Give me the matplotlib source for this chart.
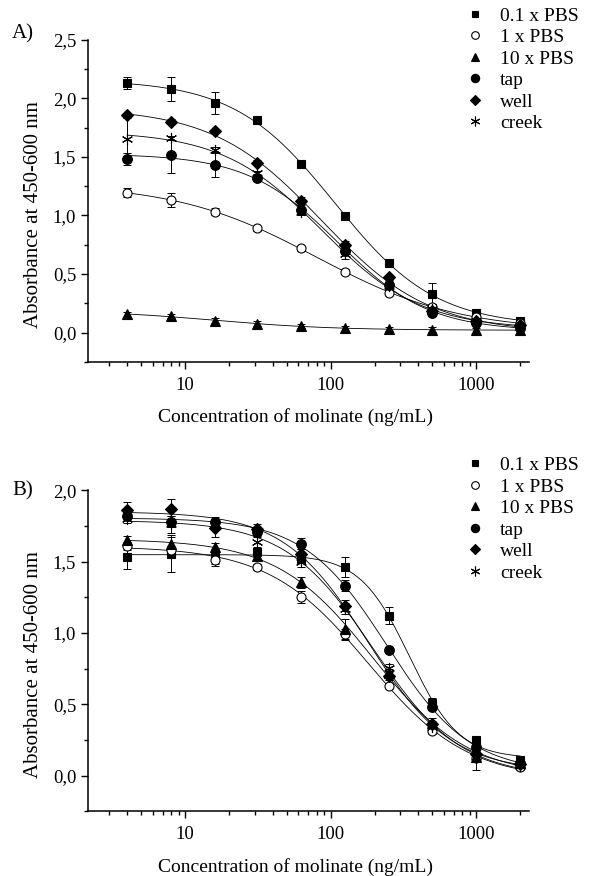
import numpy as np
import matplotlib
matplotlib.use('Agg')
import matplotlib.pyplot as plt
from matplotlib.lines import Line2D
from matplotlib.ticker import FuncFormatter, LogLocator, MultipleLocator, NullFormatter

plt.rcParams['font.family'] = ['Liberation Serif', 'DejaVu Serif']

# molinate concentration (ng/mL)
conc = [4, 8, 16, 31.25, 62.5, 125, 250, 500, 1000, 2000]
series = ['0.1 x PBS', '1 x PBS', '10 x PBS', 'tap', 'well', 'creek']

# Panel A) absorbance, mean and error
a_pbs01 = [2.13, 2.08, 1.96, 1.815, 1.44, 0.995, 0.59, 0.33, 0.17, 0.10]
a_pbs1 = [1.195, 1.13, 1.03, 0.89, 0.72, 0.52, 0.34, 0.22, 0.13, 0.08]
a_pbs10 = [0.156, 0.14, 0.10, 0.075, 0.055, 0.035, 0.03, 0.025, 0.02, 0.02]
a_tap = [1.48, 1.52, 1.43, 1.32, 1.05, 0.70, 0.41, 0.17, 0.08, 0.04]
a_well = [1.855, 1.80, 1.72, 1.45, 1.125, 0.75, 0.47, 0.18, 0.10, 0.06]
a_creek = [1.655, 1.66, 1.56, 1.36, 1.03, 0.67, 0.40, 0.20, 0.10, 0.05]

a_pbs01_err = [0.05, 0.10, 0.09, 0.02, 0.02, 0.02, 0.02, 0.09, 0.02, 0.02]
a_pbs1_err = [0.04, 0.06, 0.03, 0.02, 0.02, 0.02, 0.02, 0.02, 0.02, 0.02]
a_pbs10_err = [0.02, 0.02, 0.02, 0.02, 0.02, 0.02, 0.02, 0.02, 0.02, 0.02]
a_tap_err = [0.05, 0.16, 0.10, 0.03, 0.04, 0.03, 0.03, 0.03, 0.02, 0.02]
a_well_err = [0.02, 0.02, 0.02, 0.02, 0.03, 0.03, 0.02, 0.02, 0.02, 0.02]
a_creek_err = [0.19, 0.02, 0.02, 0.02, 0.03, 0.04, 0.03, 0.03, 0.02, 0.02]

# Panel B) absorbance, mean and error
b_pbs01 = [1.53, 1.555, 1.535, 1.57, 1.52, 1.46, 1.12, 0.51, 0.25, 0.11]
b_pbs1 = [1.61, 1.58, 1.51, 1.46, 1.25, 0.99, 0.63, 0.31, 0.12, 0.06]
b_pbs10 = [1.65, 1.62, 1.60, 1.54, 1.355, 1.03, 0.72, 0.37, 0.13, 0.09]
b_tap = [1.82, 1.78, 1.78, 1.71, 1.625, 1.33, 0.88, 0.48, 0.20, 0.09]
b_well = [1.86, 1.87, 1.735, 1.73, 1.55, 1.19, 0.70, 0.36, 0.15, 0.08]
b_creek = [1.80, 1.76, 1.76, 1.635, 1.50, 1.17, 0.755, 0.34, 0.13, 0.07]

b_pbs01_err = [0.08, 0.13, 0.05, 0.03, 0.03, 0.07, 0.06, 0.03, 0.02, 0.02]
b_pbs1_err = [0.03, 0.03, 0.04, 0.02, 0.04, 0.04, 0.02, 0.02, 0.02, 0.02]
b_pbs10_err = [0.03, 0.05, 0.03, 0.02, 0.04, 0.07, 0.03, 0.03, 0.09, 0.02]
b_tap_err = [0.03, 0.04, 0.03, 0.03, 0.04, 0.04, 0.02, 0.02, 0.02, 0.02]
b_well_err = [0.06, 0.07, 0.06, 0.03, 0.04, 0.04, 0.03, 0.02, 0.02, 0.02]
b_creek_err = [0.03, 0.06, 0.03, 0.04, 0.04, 0.04, 0.03, 0.02, 0.02, 0.02]

styles = {
    '0.1 x PBS': dict(marker='s', ms=6, mfc='black'),
    '1 x PBS': dict(marker='o', ms=6.5, mfc='white'),
    '10 x PBS': dict(marker='^', ms=7, mfc='black'),
    'tap': dict(marker='o', ms=7, mfc='black'),
    'well': dict(marker='D', ms=6, mfc='black'),
    'creek': dict(marker=(6, 2, 0), ms=8, mfc='black'),
}


def logistic(p, lx):
    # 4-parameter logistic: top, bottom, log10(IC50), slope
    return p[1] + (p[0] - p[1]) / (1 + 10 ** (p[3] * (lx - p[2])))


def fit_logistic(x, y):
    """small Levenberg-Marquardt fit, numpy only"""
    lx = np.log10(x)
    y = np.asarray(y, float)
    p = np.array([y.max() + 0.05, y.min(), np.log10(np.median(x)), 1.0])
    lam = 1e-2
    for _ in range(300):
        r = y - logistic(p, lx)
        J = np.empty((len(lx), 4))
        for k in range(4):
            dp = np.zeros(4)
            dp[k] = 1e-6
            J[:, k] = (logistic(p + dp, lx) - logistic(p, lx)) / 1e-6
        H = J.T @ J
        step = np.linalg.solve(H + lam * np.diag(np.diag(H) + 1e-12), J.T @ r)
        pn = p + step
        if np.sum((y - logistic(pn, lx)) ** 2) < np.sum(r ** 2):
            p = pn
            lam *= 0.3
        else:
            lam *= 10
    return p


def draw_panel(ax, data, errs, ylim):
    xs = np.logspace(np.log10(conc[0]), np.log10(conc[-1]), 300)
    for name in series:
        y = data[name]
        p = fit_logistic(np.array(conc), y)
        ax.plot(xs, logistic(p, np.log10(xs)), color='black', lw=0.6, zorder=2)
        ax.errorbar(conc, y, yerr=errs[name], fmt='none', ecolor='black',
                    elinewidth=0.7, capsize=3, capthick=0.7, zorder=3)
        st = styles[name]
        ax.plot(conc, y, linestyle='none', marker=st['marker'], ms=st['ms'],
                mfc=st['mfc'], mec='black', mew=0.8, zorder=4)

    ax.set_xscale('log')
    ax.set_xlim(2.15, 2300)
    ax.set_ylim(*ylim)
    ax.spines['top'].set_visible(False)
    ax.spines['right'].set_visible(False)
    for s in ('left', 'bottom'):
        ax.spines[s].set_linewidth(1.1)

    ax.yaxis.set_major_locator(MultipleLocator(0.5))
    ax.yaxis.set_minor_locator(MultipleLocator(0.25))
    ax.yaxis.set_major_formatter(FuncFormatter(lambda v, pos: f'{v:.1f}'.replace('.', ',')))
    ax.xaxis.set_major_locator(LogLocator(base=10, numticks=10))
    ax.xaxis.set_minor_locator(LogLocator(base=10, subs=np.arange(2, 10), numticks=20))
    ax.xaxis.set_minor_formatter(NullFormatter())
    ax.xaxis.set_major_formatter(FuncFormatter(lambda v, pos: f'{v:g}'))
    ax.tick_params(which='major', direction='out', length=5, width=1, labelsize=13.5)
    ax.tick_params(which='minor', direction='out', length=3, width=1)
    ax.tick_params(axis='x', which='major', pad=6)

    ax.set_xlabel('Concentration of molinate (ng/mL)', fontsize=14)
    ax.set_ylabel('Absorbance at 450-600 nm', fontsize=15)
    ax.xaxis.set_label_coords(0.47, -0.145)
    ax.yaxis.set_label_coords(-0.102, 0.457)

    handles = [Line2D([], [], linestyle='none', marker=styles[n]['marker'],
                      ms=styles[n]['ms'] - 1, mfc=styles[n]['mfc'], mec='black', mew=0.8)
               for n in series]
    return handles


fig = plt.figure(figsize=(5.91, 8.76), dpi=100)
axA = fig.add_axes([0.149, 0.587, 0.746, 0.3676])
axB = fig.add_axes([0.149, 0.074, 0.746, 0.3664])

dataA = dict(zip(series, [a_pbs01, a_pbs1, a_pbs10, a_tap, a_well, a_creek]))
errA = dict(zip(series, [a_pbs01_err, a_pbs1_err, a_pbs10_err, a_tap_err, a_well_err, a_creek_err]))
dataB = dict(zip(series, [b_pbs01, b_pbs1, b_pbs10, b_tap, b_well, b_creek]))
errB = dict(zip(series, [b_pbs01_err, b_pbs1_err, b_pbs10_err, b_tap_err, b_well_err, b_creek_err]))

hA = draw_panel(axA, dataA, errA, (-0.25, 2.5))
hB = draw_panel(axB, dataB, errB, (-0.25, 2.0))

fig.legend(hA, series, loc='upper left', bbox_to_anchor=(0.79, 0.992), frameon=False,
           fontsize=14, handlelength=0.8, handletextpad=0.9, labelspacing=0.2,
           borderpad=0, borderaxespad=0)
fig.legend(hB, series, loc='upper left', bbox_to_anchor=(0.79, 0.479), frameon=False,
           fontsize=14, handlelength=0.8, handletextpad=0.9, labelspacing=0.2,
           borderpad=0, borderaxespad=0)

fig.text(12 / 591, 1 - 34 / 876, 'A)', fontsize=15, va='center', ha='left')
fig.text(12 / 591, 1 - 491 / 876, 'B)', fontsize=15, va='center', ha='left')

fig.savefig('out.png', dpi=100)
